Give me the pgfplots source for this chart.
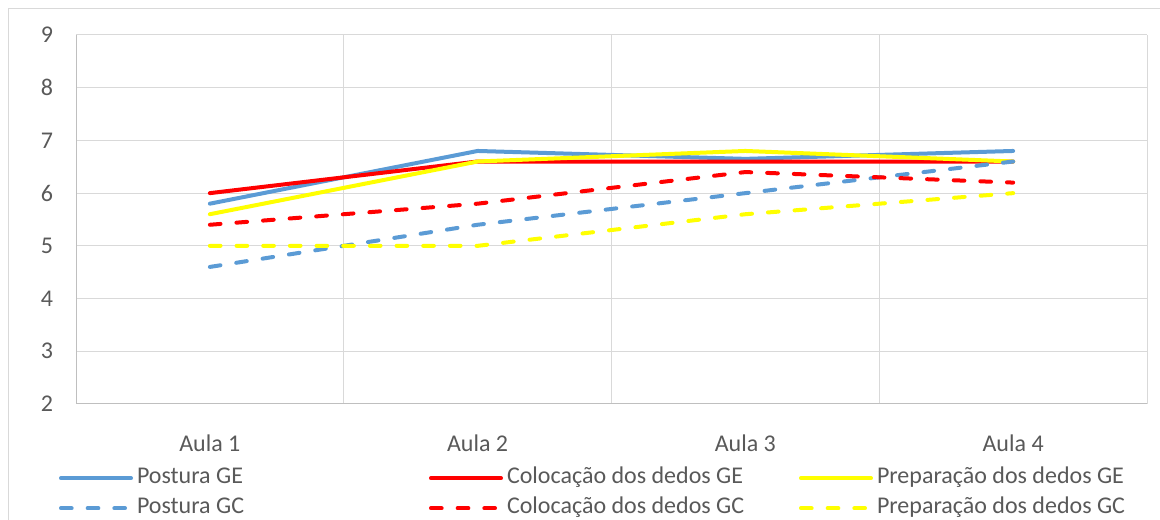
\documentclass[border=0pt]{standalone}
\usepackage{pgfplots}
\pgfplotsset{compat=1.18}
\usepackage{fontspec}
\setmainfont{Carlito}
\definecolor{txt}{HTML}{595959}
\definecolor{gridc}{HTML}{D9D9D9}
\definecolor{axc}{HTML}{BFBFBF}
\definecolor{cblue}{HTML}{5B9BD5}
\definecolor{cred}{HTML}{FF0000}
\definecolor{cyel}{HTML}{FFFF00}
\tikzset{ser/.style={line width=3pt, line join=round, line cap=round},
  dsh/.style={dash pattern=on 8pt off 12pt}}
\begin{document}
\begin{tikzpicture}
\path[use as bounding box] (0pt,0pt) rectangle (870pt,390pt);
\draw[gridc, line width=0.75pt] (6pt,-10pt) -- (6pt,383.25pt) -- (880pt,383.25pt);
\begin{axis}[
  at={(57pt,87pt)}, anchor=south west,
  scale only axis, width=803.25pt, height=276.75pt,
  xmin=0.5, xmax=4.5, ymin=2, ymax=9,
  xtick={1,2,3,4}, xticklabels={Aula 1,Aula 2,Aula 3,Aula 4},
  minor xtick={1.5,2.5,3.5,4.5},
  ytick={2,3,4,5,6,7,8,9},
  xmajorgrids=false, xminorgrids=true, ymajorgrids=true,
  grid style={gridc, line width=0.75pt},
  minor grid style={gridc, line width=0.75pt},
  axis x line*=bottom, axis y line*=left,
  axis line style={axc, line width=0.75pt, -},
  major tick length=0pt, minor tick length=0pt,
  tick style={draw=none},
  /pgf/number format/assume math mode=true,
  ticklabel style={font=\fontsize{18}{22}\selectfont, text=txt},
  yticklabel style={inner sep=0pt, anchor=east, xshift=-17pt},
  xticklabel style={inner sep=0pt, anchor=north, yshift=-23pt},
  legend columns=3,
  legend style={draw=none, fill=none, at={(-0.01587,-0.1661)}, anchor=north west,
    inner sep=0pt, outer sep=0pt,
    font=\fontsize{18}{22}\selectfont, text=txt,
    nodes={inner sep=0pt, text height=14pt, text depth=4pt},
    /tikz/every odd column/.append style={column sep=3pt},
    row sep=4.5pt},
  legend cell align=left,
  legend image code/.code={\draw[#1] (0pt,-0.75pt) -- (52.5pt,-0.75pt);},
]
\addplot[ser, cblue] coordinates {(1,5.8) (2,6.8) (3,6.65) (4,6.8)};
\addlegendentry{\makebox[219pt][l]{Postura GE}}
\addplot[ser, cred] coordinates {(1,6.0) (2,6.6) (3,6.6) (4,6.6)};
\addlegendentry{\makebox[219pt][l]{Colocação dos dedos GE}}
\addplot[ser, cyel] coordinates {(1,5.6) (2,6.6) (3,6.8) (4,6.6)};
\addlegendentry{Preparação dos dedos GE}
\addplot[ser, dsh, cblue] coordinates {(1,4.6) (2,5.4) (3,6.0) (4,6.6)};
\addlegendentry{\makebox[219pt][l]{Postura GC}}
\addplot[ser, dsh, cred] coordinates {(1,5.4) (2,5.8) (3,6.4) (4,6.2)};
\addlegendentry{\makebox[219pt][l]{Colocação dos dedos GC}}
\addplot[ser, dsh, cyel] coordinates {(1,5.0) (2,5.0) (3,5.6) (4,6.0)};
\addlegendentry{Preparação dos dedos GC}
\end{axis}
\end{tikzpicture}
\end{document}
